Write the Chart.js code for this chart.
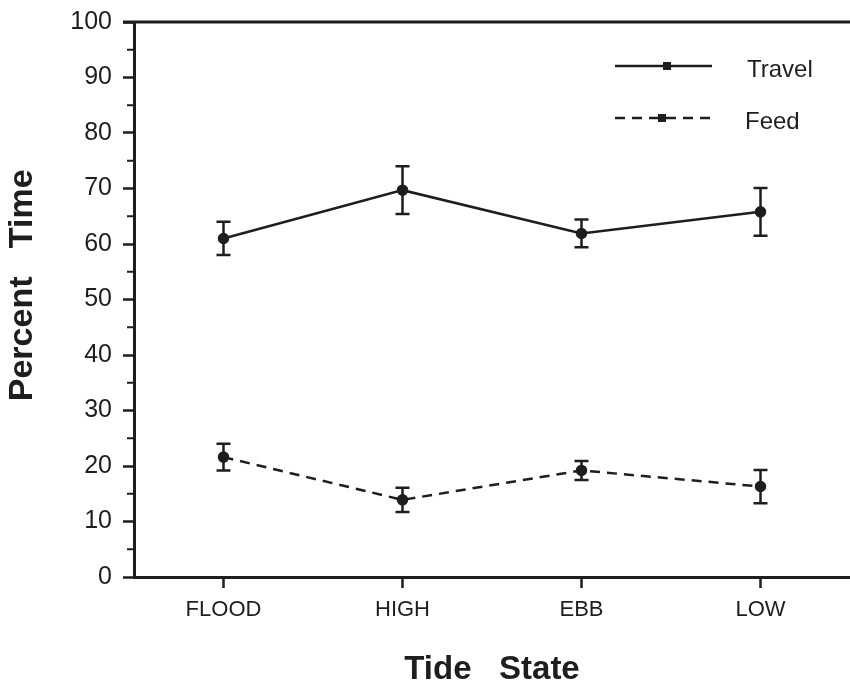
<!DOCTYPE html>
<html>
<head>
<meta charset="utf-8">
<script src="https://cdn.jsdelivr.net/npm/chart.js@4/dist/chart.umd.min.js"></script>
<style>
  html, body { margin: 0; padding: 0; background: #fff; overflow: hidden; }
  #wrap { width: 857px; height: 683px; }
</style>
</head>
<body>
<div id="wrap"><canvas id="tideChart" width="857" height="683"></canvas></div>
<script>
// datos
const tideStates = ['FLOOD', 'HIGH', 'EBB', 'LOW'];
const travelMean = [61.0, 69.7, 61.9, 65.8];
const travelErr = [3.0, 4.3, 2.5, 4.3];
const feedMean = [21.6, 13.9, 19.2, 16.3];
const feedErr = [2.4, 2.2, 1.7, 3.0];
const yTicks = [0, 10, 20, 30, 40, 50, 60, 70, 80, 90, 100];

const INK = '#1e1e1e';
const FONT = '"Liberation Sans", Arial, Helvetica, sans-serif';

// barras de error, ticks menores, linea superior y leyenda
const extras = {
    id: 'extras',
    afterDatasetsDraw(chart) {
        const ctx = chart.ctx, y = chart.scales.y, area = chart.chartArea;
        const errs = [travelErr, feedErr];
        ctx.save();
        ctx.strokeStyle = INK;
        ctx.lineWidth = 2.5;
        ctx.setLineDash([]);
        chart.data.datasets.forEach(function (ds, d) {
            const meta = chart.getDatasetMeta(d);
            meta.data.forEach(function (pt, i) {
                const top = y.getPixelForValue(ds.data[i] + errs[d][i]);
                const bot = y.getPixelForValue(ds.data[i] - errs[d][i]);
                ctx.beginPath();
                ctx.moveTo(pt.x, top); ctx.lineTo(pt.x, bot);
                ctx.moveTo(pt.x - 7, top); ctx.lineTo(pt.x + 7, top);
                ctx.moveTo(pt.x - 7, bot); ctx.lineTo(pt.x + 7, bot);
                ctx.stroke();
            });
        });

        // ticks menores cada 5
        ctx.lineWidth = 2;
        for (let v = 5; v < 100; v += 10) {
            const py = y.getPixelForValue(v);
            ctx.beginPath();
            ctx.moveTo(area.left - 7, py); ctx.lineTo(area.left, py);
            ctx.stroke();
        }

        // linea superior del marco
        ctx.lineWidth = 3;
        ctx.beginPath();
        ctx.moveTo(area.left - 11, area.top); ctx.lineTo(chart.width, area.top);
        ctx.stroke();

        // leyenda
        ctx.lineWidth = 2.5;
        ctx.beginPath();
        ctx.moveTo(615, 66); ctx.lineTo(712, 66);
        ctx.stroke();
        ctx.fillStyle = INK;
        ctx.fillRect(663, 62, 8, 8);
        ctx.setLineDash([10, 7]);
        ctx.beginPath();
        ctx.moveTo(615, 118); ctx.lineTo(712, 118);
        ctx.stroke();
        ctx.setLineDash([]);
        ctx.fillRect(658, 114, 8, 8);
        ctx.font = '24px ' + FONT;
        ctx.textBaseline = 'middle';
        ctx.fillText('Travel', 747, 70);
        ctx.fillText('Feed', 745, 122);
        ctx.restore();
    }
};

const CHART_EL = document.getElementById('tideChart');

new Chart(CHART_EL, {
    type: 'line',
    data: {
        labels: tideStates,
        datasets: [{
            label: 'Travel',
            data: travelMean,
            borderColor: INK,
            backgroundColor: INK,
            borderWidth: 2.5,
            pointRadius: 4.5,
            pointBackgroundColor: INK,
            tension: 0
        }, {
            label: 'Feed',
            data: feedMean,
            borderColor: INK,
            backgroundColor: INK,
            borderWidth: 2.5,
            borderDash: [10, 7],
            pointRadius: 4.5,
            pointBackgroundColor: INK,
            tension: 0
        }]
    },
    options: {
        responsive: false,
        animation: false,
        layout: { padding: { top: 22, left: 0, right: 0, bottom: 0 } },
        plugins: {
            legend: { display: false },
            tooltip: { enabled: false }
        },
        scales: {
            x: {
                offset: true,
                afterFit: function (s) { s.height = 106; },
                border: { color: INK, width: 3 },
                grid: { drawOnChartArea: false, tickLength: 11, tickColor: INK, tickWidth: 2.5, offset: false },
                ticks: { color: INK, padding: 9, font: { family: FONT, size: 22 } },
                title: {
                    display: true,
                    text: 'Tide   State',
                    color: INK,
                    font: { family: FONT, size: 33, weight: 'bold', lineHeight: 0.8 },
                    padding: { top: 0, bottom: 0 }
                }
            },
            y: {
                min: 0,
                max: 100,
                afterFit: function (s) { s.width = 134; },
                afterBuildTicks: function (s) { s.ticks = yTicks.map(v => ({ value: v })); },
                border: { color: INK, width: 3 },
                grid: { drawOnChartArea: false, tickLength: 11, tickColor: INK, tickWidth: 2.5 },
                ticks: { color: INK, padding: 11, font: { family: FONT, size: 25, lineHeight: 0.8 } },
                title: {
                    display: true,
                    text: '   Percent   Time',
                    color: INK,
                    font: { family: FONT, size: 34, weight: 'bold', lineHeight: 1 },
                    padding: { top: 6, bottom: 0 }
                }
            }
        }
    },
    plugins: [extras]
});
</script>
</body>
</html>
